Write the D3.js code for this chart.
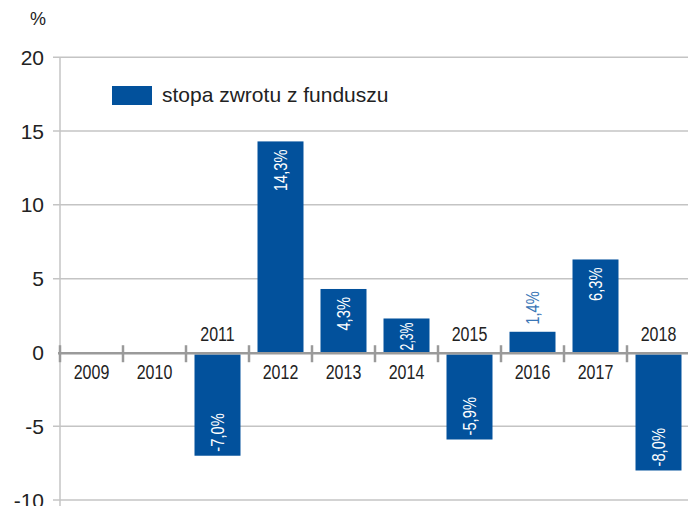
<!DOCTYPE html>
<html>
<head>
<meta charset="utf-8">
<script src="https://cdn.jsdelivr.net/npm/d3@7"></script>
<style>
  html, body { margin: 0; padding: 0; background: #fff; }
  svg { display: block; }
  text { font-family: "Liberation Sans", Arial, sans-serif; }
</style>
</head>
<body>
<svg id="chart" width="688" height="506"></svg>
<script>
// Annual fund return, %
const years = ["2009", "2010", "2011", "2012", "2013", "2014", "2015", "2016", "2017", "2018"];
const returns = [null, null, -7.0, 14.3, 4.3, 2.3, -5.9, 1.4, 6.3, -8.0];
const valueLabels = ["", "", "-7,0%", "14,3%", "4,3%", "2,3%", "-5,9%", "1,4%", "6,3%", "-8,0%"];
const yTicks = [-10, -5, 0, 5, 10, 15, 20];
const legendLabel = "stopa zwrotu z funduszu";
const unitLabel = "%";

const barColor = "#02519c";
const narrow = 0.82; // horizontal squeeze to get a condensed face
const svg = d3.select("#chart");

const plotLeft = 60, plotRight = 690;
const y = d3.scaleLinear().domain([-10, 20]).range([500, 57.3]);
const x = d3.scaleBand().domain(years).range([plotLeft, plotRight]).paddingInner(0.27).paddingOuter(0.135);
const band = d3.scaleBand().domain(years).range([plotLeft, plotRight]);

// horizontal gridlines
svg.append("g")
  .selectAll("line")
  .data(yTicks.filter(d => d !== 0))
  .join("line")
  .attr("x1", 53).attr("x2", 688)
  .attr("y1", d => y(d)).attr("y2", d => y(d))
  .attr("stroke", "#c4c4c4").attr("stroke-width", 1.5);

// vertical axis line
svg.append("line")
  .attr("x1", plotLeft).attr("x2", plotLeft)
  .attr("y1", y(20)).attr("y2", 506)
  .attr("stroke", "#c4c4c4").attr("stroke-width", 1.5);

// y tick labels
svg.append("g")
  .selectAll("text")
  .data(yTicks)
  .join("text")
  .attr("x", 44).attr("y", d => y(d))
  .attr("dy", "0.36em")
  .attr("text-anchor", "end")
  .attr("font-size", 21)
  .attr("fill", "#222")
  .text(d => d);

svg.append("text")
  .attr("x", 30).attr("y", 25)
  .attr("font-size", 18)
  .attr("fill", "#222")
  .text(unitLabel);

// bars
const data = years.map((yr, i) => ({ yr, v: returns[i], label: valueLabels[i] }));
svg.append("g")
  .selectAll("rect")
  .data(data.filter(d => d.v !== null))
  .join("rect")
  .attr("x", d => x(d.yr))
  .attr("width", x.bandwidth())
  .attr("y", d => d.v >= 0 ? y(d.v) : y(0) + 2)
  .attr("height", d => d.v >= 0 ? y(0) - y(d.v) : y(d.v) - y(0) - 2)
  .attr("fill", barColor);

// zero line with category ticks
const zeroY = y(0) + 0.8;
svg.append("line")
  .attr("x1", plotLeft - 2).attr("x2", 688)
  .attr("y1", zeroY).attr("y2", zeroY)
  .attr("stroke", "#9a9a9a").attr("stroke-width", 2.5);
svg.append("g")
  .selectAll("line")
  .data(years)
  .join("line")
  .attr("x1", d => band(d)).attr("x2", d => band(d))
  .attr("y1", zeroY - 8).attr("y2", zeroY + 9)
  .attr("stroke", "#9a9a9a").attr("stroke-width", 2.5);

// category labels: above the axis for negative years, below otherwise
svg.append("g")
  .selectAll("text")
  .data(data)
  .join("text")
  .attr("transform", d => {
    const cx = band(d.yr) + band.bandwidth() / 2;
    const py = d.v !== null && d.v < 0 ? zeroY - 12 : zeroY + 26;
    return `translate(${cx},${py}) scale(${narrow},1)`;
  })
  .attr("text-anchor", "middle")
  .attr("font-size", 19.5)
  .attr("fill", "#222")
  .text(d => d.yr);

// value labels, rotated, inside the bar end (outside for short bars);
// labels longer than their bar sit closer to the end and get squeezed to fit
svg.append("g")
  .selectAll("text")
  .data(data.filter(d => d.v !== null))
  .join("text")
  .attr("font-size", 18)
  .attr("dominant-baseline", "central")
  .attr("text-anchor", d => d.v < 2 ? "start" : "end")
  .attr("fill", d => (d.v >= 0 && d.v < 2) ? "#3a76b6" : "#fff")
  .text(d => d.label)
  .attr("transform", function (d) {
    const cx = x(d.yr) + x.bandwidth() / 2;
    let py, s = narrow;
    if (d.v < 0) py = y(d.v) - 4;
    else if (d.v < 2) py = y(d.v) - 7;
    else {
      const barLen = y(0) - y(d.v);
      const len = this.getComputedTextLength() * narrow;
      if (len + 13 <= barLen) {
        py = y(d.v) + 8;
      } else {
        py = y(d.v) + 4;
        const room = barLen - 6;
        if (len > room) s = narrow * room / len;
      }
    }
    return `translate(${cx},${py}) rotate(-90) scale(${s},1)`;
  });

// legend
const legend = svg.append("g");
legend.append("rect")
  .attr("x", 112).attr("y", 86).attr("width", 40).attr("height", 19)
  .attr("fill", barColor);
legend.append("text")
  .attr("x", 162).attr("y", 102)
  .attr("font-size", 21)
  .attr("fill", "#222")
  .text(legendLabel);
</script>
</body>
</html>
